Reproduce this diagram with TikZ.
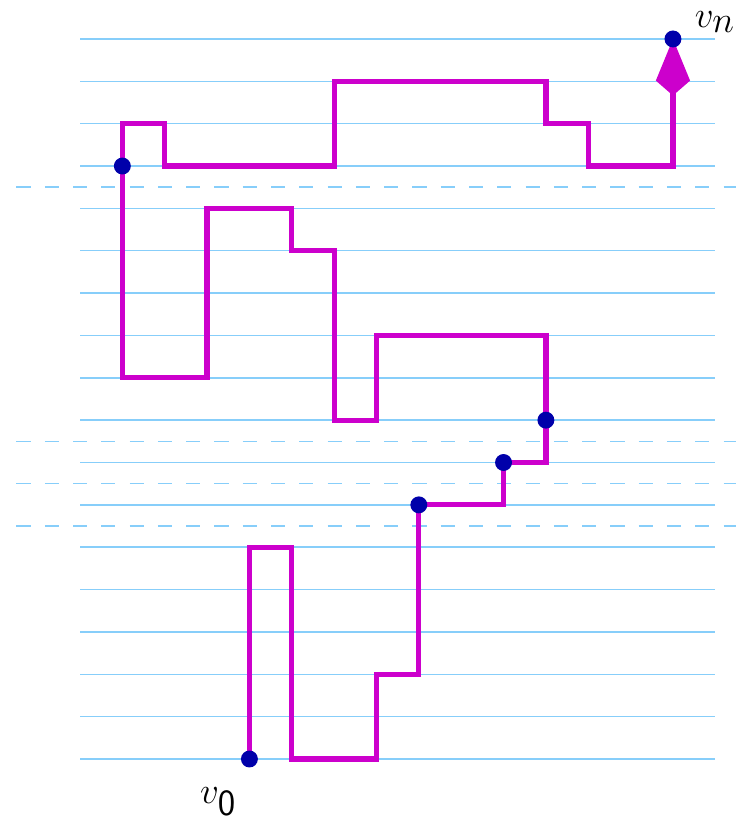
\documentclass[tikz,border=0pt]{standalone}
\usepackage{tikz}
\usetikzlibrary{arrows.meta}

\definecolor{skyline}{RGB}{135,206,250}
\definecolor{walkpink}{RGB}{204,0,204}
\definecolor{dotblue}{RGB}{0,0,170}

\begin{document}
\begin{tikzpicture}[
  grid/.style={draw=skyline, line width=1pt},
  cut/.style={draw=skyline, line width=1pt, dash pattern=on 9.5pt off 9.5pt},
  walk/.style={draw=walkpink, line width=3.5pt, -{Kite[length=38pt,width=23pt,inset=10pt]}},
  dot/.style={circle, fill=dotblue, inner sep=0pt, minimum size=0.4cm},
  lab/.style={font=\fontsize{33}{36}\selectfont, inner sep=0pt},
]
  \useasboundingbox (-1.889,-1.417) rectangle (15.75,17.92);

  % levels
  \foreach \y in {0,...,17}
    \draw[grid] (0,\y) -- (15,\y);
  \foreach \y in {5.5,6.5,7.5,13.5}
    \draw[cut] (-1.5,\y) -- (15.5,\y);

  % marked points of the walk
  \coordinate (v0) at (4,0);
  \coordinate (p1) at (8,6);
  \coordinate (p2) at (10,7);
  \coordinate (p3) at (11,8);
  \coordinate (p4) at (1,14);
  \coordinate (vn) at (14,17);

  % the walk
  \draw[walk] (v0) -- (4,5) -- (5,5) -- (5,0) -- (7,0) -- (7,2) -- (8,2)
    -- (p1) -- (10,6) -- (p2) -- (11,7) -- (p3) -- (11,10) -- (7,10)
    -- (7,8) -- (6,8) -- (6,12) -- (5,12) -- (5,13) -- (3,13) -- (3,9)
    -- (1,9) -- (p4) -- (1,15) -- (2,15) -- (2,14) -- (6,14) -- (6,16)
    -- (11,16) -- (11,15) -- (12,15) -- (12,14) -- (14,14) -- (vn);

  \foreach \p in {v0,p1,p2,p3,p4,vn}
    \node[dot] (d\p) at (\p) {};

  % end labels
  \node[lab] (l0) at (3.26,-1.0) {$v_{\mathsf{0}}$};
  \node[lab] (ln) at (14.99,17.40) {$v_n$};
\end{tikzpicture}
\end{document}
